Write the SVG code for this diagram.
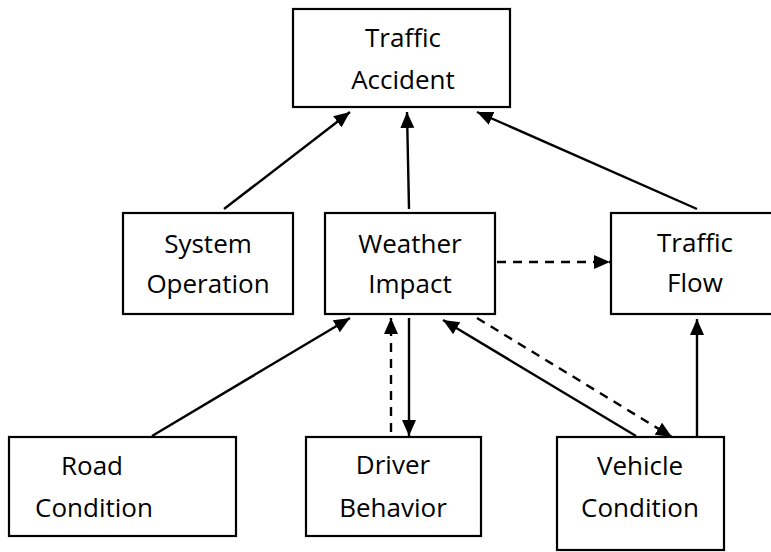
<svg xmlns="http://www.w3.org/2000/svg" width="771" height="552" viewBox="0 0 771 552">
<defs>
<marker id="ah" markerUnits="userSpaceOnUse" markerWidth="18" markerHeight="16" refX="16" refY="7" orient="auto">
<path d="M0,0 L16,7 L0,14 z" fill="#000"/>
</marker>
<style>
.box{fill:#fff;stroke:#000;stroke-width:2.2}
.t{font-family:"Open Sans","Noto Sans","Liberation Sans",sans-serif;font-size:26px;fill:#000;text-anchor:middle}
.c{stroke:#000;stroke-width:2.4;fill:none;marker-end:url(#ah)}
.d{stroke-dasharray:9 7}
</style>
</defs>
<rect width="771" height="552" fill="#fff"/>
<g id="connectors">
<line class="c" x1="224" y1="209" x2="350" y2="112"/>
<line class="c" x1="409" y1="209" x2="407" y2="112"/>
<line class="c" x1="697" y1="209" x2="477" y2="112"/>
<line class="c d" x1="497" y1="262" x2="610" y2="262"/>
<line class="c" x1="152" y1="436" x2="350" y2="318"/>
<line class="c d" x1="391" y1="432" x2="391" y2="318"/>
<line class="c" x1="409" y1="318" x2="409" y2="436"/>
<line class="c" x1="636" y1="436" x2="443" y2="320"/>
<line class="c d" x1="477" y1="318" x2="672" y2="437"/>
<line class="c" x1="697" y1="437" x2="697" y2="319"/>
</g>
<g id="traffic-accident">
<rect class="box" x="293" y="9" width="217" height="98"/>
<text class="t" x="403" y="47">Traffic</text>
<text class="t" x="403" y="89">Accident</text>
</g>
<g id="system-operation">
<rect class="box" x="123" y="213" width="170" height="101"/>
<text class="t" x="208" y="253">System</text>
<text class="t" x="208" y="293">Operation</text>
</g>
<g id="weather-impact">
<rect class="box" x="325" y="213" width="170" height="101"/>
<text class="t" x="410" y="253">Weather</text>
<text class="t" x="410" y="293">Impact</text>
</g>
<g id="traffic-flow">
<rect class="box" x="611" y="213" width="170" height="101"/>
<text class="t" x="695" y="252">Traffic</text>
<text class="t" x="695" y="292">Flow</text>
</g>
<g id="road-condition">
<rect class="box" x="9" y="437" width="227" height="99"/>
<text class="t" x="92" y="475">Road</text>
<text class="t" x="94" y="517">Condition</text>
</g>
<g id="driver-behavior">
<rect class="box" x="306" y="437" width="175" height="99"/>
<text class="t" x="393" y="474">Driver</text>
<text class="t" x="393" y="517">Behavior</text>
</g>
<g id="vehicle-condition">
<rect class="box" x="557" y="437" width="167" height="113"/>
<text class="t" x="640" y="475">Vehicle</text>
<text class="t" x="640" y="517">Condition</text>
</g>
</svg>
